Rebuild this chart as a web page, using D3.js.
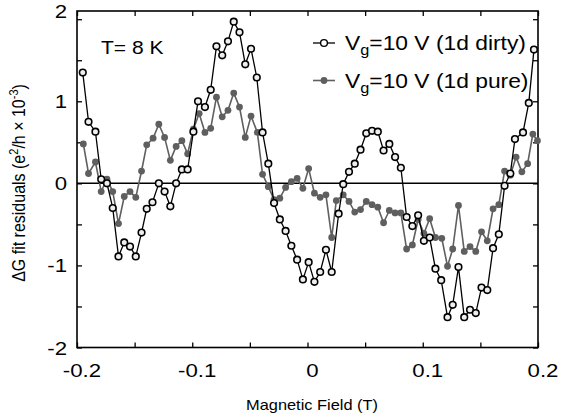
<!DOCTYPE html>
<html>
<head>
<meta charset="utf-8">
<style>
  body { margin:0; background:#fff; }
  text { font-family: "Liberation Sans", Arial, Helvetica, sans-serif; fill:#000; }
</style>
</head>
<body>
<svg id="plot"></svg>
<script src="https://d3js.org/d3.v7.min.js"></script>
<script>
// values: field (T) vs residual (e^2/h x 10^-3)
var dirtyB = [-0.195,-0.190,-0.184,-0.179,-0.174,-0.169,-0.164,-0.159,-0.154,-0.149,
  -0.144,-0.1395,-0.1345,-0.129,-0.124,-0.119,-0.114,-0.109,-0.104,-0.099,
  -0.095,-0.089,-0.084,-0.079,-0.074,-0.069,-0.064,-0.059,-0.054,-0.049,
  -0.044,-0.039,-0.034,-0.029,-0.024,-0.019,-0.014,-0.009,-0.004,0.001,
  0.006,0.011,0.016,0.021,0.027,0.031,0.036,0.041,0.046,0.051,
  0.056,0.061,0.066,0.071,0.076,0.081,0.086,0.091,0.096,0.101,
  0.106,0.111,0.116,0.1215,0.126,0.131,0.136,0.141,0.146,0.151,
  0.156,0.161,0.166,0.171,0.176,0.180,0.187,0.192,0.1965];
var dirtyG = [1.35,0.75,0.63,0.05,0.00,-0.30,-0.89,-0.72,-0.77,-0.89,
  -0.60,-0.31,-0.23,0.00,-0.10,-0.28,0.00,0.17,0.17,0.63,
  1.00,0.93,1.14,1.67,1.56,1.73,1.97,1.84,1.45,1.64,
  1.29,0.62,0.24,-0.24,-0.44,-0.58,-0.76,-0.93,-1.17,-0.96,
  -1.20,-1.08,-0.81,-1.08,-0.37,-0.01,0.14,0.24,0.41,0.61,
  0.64,0.63,0.40,0.48,0.32,0.19,-0.41,-0.52,-0.39,-0.70,
  -0.66,-1.04,-1.18,-1.63,-1.48,-1.02,-1.63,-1.54,-1.58,-1.27,
  -1.30,-0.79,-0.62,-0.03,0.12,0.54,0.62,0.98,1.63];

var pureB = [-0.1945,-0.190,-0.184,-0.179,-0.174,-0.169,-0.164,-0.159,-0.154,-0.149,
  -0.144,-0.1395,-0.134,-0.129,-0.124,-0.119,-0.114,-0.109,-0.104,-0.099,
  -0.094,-0.089,-0.084,-0.079,-0.074,-0.069,-0.064,-0.059,-0.054,-0.049,
  -0.0435,-0.039,-0.034,-0.029,-0.024,-0.019,-0.014,-0.009,-0.004,0.001,
  0.006,0.011,0.016,0.021,0.025,0.031,0.036,0.041,0.046,0.051,
  0.056,0.061,0.066,0.071,0.076,0.081,0.086,0.091,0.096,0.101,
  0.106,0.111,0.1165,0.1215,0.126,0.131,0.136,0.141,0.146,0.151,
  0.156,0.161,0.166,0.171,0.176,0.181,0.186,0.191,0.1955,0.1995];
var pureG = [0.48,0.12,0.26,-0.10,0.05,-0.10,-0.49,-0.16,-0.10,-0.17,
  0.15,0.47,0.55,0.72,0.56,0.28,0.45,0.52,0.36,0.66,
  0.85,0.62,0.67,1.05,0.81,0.89,1.10,0.93,0.56,0.82,
  0.62,0.11,-0.04,-0.20,-0.18,-0.05,0.02,0.06,-0.06,0.18,
  -0.12,-0.17,-0.14,-0.66,-0.21,-0.14,-0.22,-0.35,-0.32,-0.22,
  -0.26,-0.29,-0.48,-0.33,-0.36,-0.36,-0.80,-0.75,-0.44,-0.61,
  -0.43,-0.66,-0.67,-1.01,-0.80,-0.27,-0.83,-0.77,-0.83,-0.59,
  -0.70,-0.31,-0.26,0.15,0.10,0.32,0.14,0.24,0.60,0.52];

var xTickValues = [-0.2,-0.1,0,0.1,0.2];
var xTickLabels = ["-0.2","-0.1","0","0.1","0.2"];
var yTickValues = [-2,-1,0,1,2.1];   // the "2" sits at the frame top in the original
var yTickLabels = ["-2","-1","0","1","2"];
var legendNames = ["=10 V (1d dirty)","=10 V (1d pure)"];

var screen = {width:577, height:418};
var margins = {top:11, bottom:70.5, left:77, right:39};
var sx = 1.17;   // the original text is drawn wide

var svg = d3.select("#plot")
    .attr("width",screen.width)
    .attr("height",screen.height);

var xScale = d3.scaleLinear()
    .domain([-0.2,0.2])
    .range([margins.left,screen.width-margins.right]);

var yScale = d3.scaleLinear()
    .domain([-2,2.1])
    .range([screen.height-margins.bottom,margins.top]);

var wideText = function(g,x,y,str,size,anchor)
{
    return g.append("text")
        .attr("transform","translate("+x+","+y+") scale("+sx+",1)")
        .attr("font-size",size)
        .attr("text-anchor",anchor||"start")
        .text(str);
}

// ticks on all four sides, pointing in
var xMinor = d3.range(-0.2,0.2001,0.05);
var yMinor = d3.range(-2,2.001,0.5);
var x0 = xScale.range()[0], x1 = xScale.range()[1];
var y0 = yScale.range()[0], y1 = yScale.range()[1];

var addAxis = function(axis,tx,ty)
{
    var g = svg.append("g")
        .attr("transform","translate("+tx+","+ty+")")
        .call(axis.tickSize(-5).tickSizeOuter(0).tickFormat(""));
    g.select(".domain").remove();
    g.selectAll("line").attr("stroke","#000").attr("stroke-width",1.3);
}
addAxis(d3.axisBottom(xScale).tickValues(xMinor),0,y0);
addAxis(d3.axisTop(xScale).tickValues(xMinor),0,y1);
addAxis(d3.axisLeft(yScale).tickValues(yMinor),x0,0);
addAxis(d3.axisRight(yScale).tickValues(yMinor),x1,0);

svg.append("rect")
    .attr("x",x0).attr("y",y1)
    .attr("width",x1-x0).attr("height",y0-y1)
    .attr("fill","none")
    .attr("stroke","#000")
    .attr("stroke-width",1.6);

// zero line
svg.append("line")
    .attr("x1",x0).attr("x2",x1)
    .attr("y1",yScale(0)).attr("y2",yScale(0))
    .attr("stroke","#000")
    .attr("stroke-width",1.5);

// tick labels
var labels = svg.append("g");
xTickValues.forEach(function(v,i)
{
    wideText(labels,xScale(v)+5,377,xTickLabels[i],19,"middle");
});
yTickValues.forEach(function(v,i)
{
    wideText(labels,67,yScale(v)+7,yTickLabels[i],19,"end");
});

// series
var line = d3.line()
    .x(function(d){return xScale(d[0]);})
    .y(function(d){return yScale(d[1]);});

var pure = d3.zip(pureB,pureG);
var dirty = d3.zip(dirtyB,dirtyG);
var grey = "#5f5f5f";

svg.append("path")
    .datum(pure)
    .attr("d",line)
    .attr("fill","none")
    .attr("stroke",grey)
    .attr("stroke-width",1.6);

svg.append("g").selectAll("circle")
    .data(pure)
    .enter()
    .append("circle")
    .attr("cx",function(d){return xScale(d[0]);})
    .attr("cy",function(d){return yScale(d[1]);})
    .attr("r",3.4)
    .attr("fill",grey);

svg.append("path")
    .datum(dirty)
    .attr("d",line)
    .attr("fill","none")
    .attr("stroke","#000")
    .attr("stroke-width",1.3);

svg.append("g").selectAll("circle")
    .data(dirty)
    .enter()
    .append("circle")
    .attr("cx",function(d){return xScale(d[0]);})
    .attr("cy",function(d){return yScale(d[1]);})
    .attr("r",3.3)
    .attr("fill","#eee")
    .attr("stroke","#000")
    .attr("stroke-width",1.6);

// legend
var legend = svg.append("g");
var rows = [43,80.5];
rows.forEach(function(y,i)
{
    legend.append("line")
        .attr("x1",313).attr("x2",335)
        .attr("y1",y).attr("y2",y)
        .attr("stroke",i==0?"#000":grey)
        .attr("stroke-width",i==0?1.3:1.6);
    legend.append("circle")
        .attr("cx",324).attr("cy",y)
        .attr("r",3.4)
        .attr("fill",i==0?"#fff":grey)
        .attr("stroke",i==0?"#000":"none")
        .attr("stroke-width",1.4);
    var t = wideText(legend,345,y+7,"",19.5,"start");
    t.append("tspan").text("V");
    t.append("tspan").attr("font-size",14).attr("dy",5).text("g");
    t.append("tspan").attr("dy",-5).text(legendNames[i]);
});

wideText(svg,101,54,"T= 8 K",18,"start");

// axis titles
wideText(svg,312,410,"Magnetic Field (T)",14,"middle");

var yl = svg.append("text")
    .attr("transform","translate(25,183) scale("+sx+",1) rotate(-90)")
    .attr("font-size",16)
    .attr("text-anchor","middle");
yl.append("tspan").text("\u0394G fit residuals (e");
yl.append("tspan").attr("font-size",11).attr("dy",-6).text("2");
yl.append("tspan").attr("dy",6).text("/h \u00d7 10");
yl.append("tspan").attr("font-size",11).attr("dy",-6).text("-3");
yl.append("tspan").attr("dy",6).text(")");
</script>
</body>
</html>
